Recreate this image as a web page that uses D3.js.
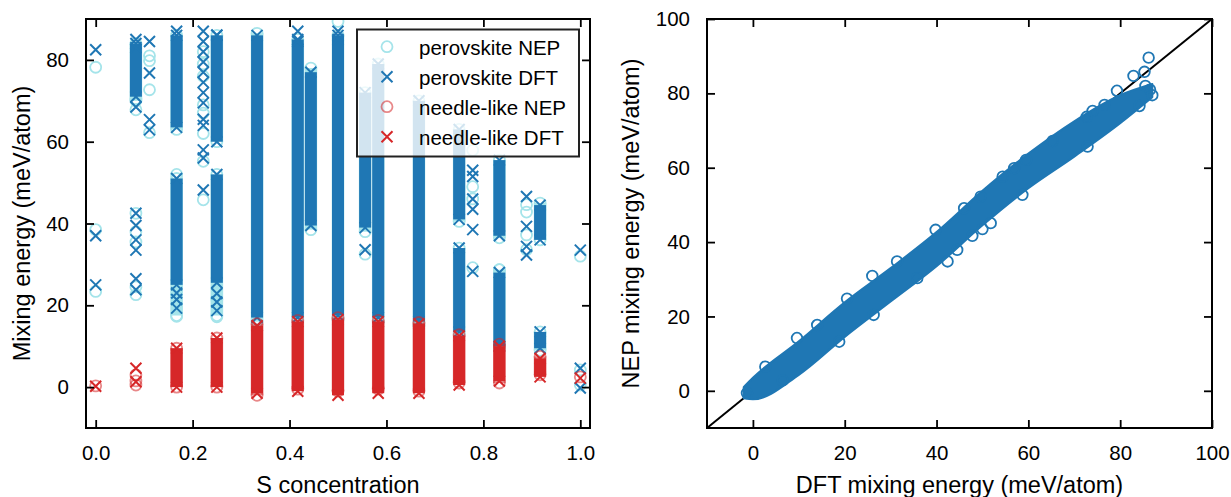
<!DOCTYPE html>
<html>
<head>
<meta charset="utf-8">
<script src="https://cdn.jsdelivr.net/npm/d3@7"></script>
<style>
  body { margin: 0; background: #fff; }
  svg text { font-family: "Liberation Sans", Arial, Helvetica, sans-serif; fill: #000; }
</style>
</head>
<body>
<svg id="chart" width="1231" height="497"></svg>
<script>
// ---- left panel: mixing energy vs S concentration ----
const xTicksLeft = [0, 0.2, 0.4, 0.6, 0.8, 1.0];
const yTicksLeft = [0, 20, 40, 60, 80];

// dense columns of markers: [S concentration, low, high] (meV/atom)
const perovNepBands = [
  [0.083, 70, 84], [0.167, 17.5, 51], [0.167, 63, 86], [0.25, 17.5, 52], [0.25, 60, 86],
  [0.333, 16, 86.5], [0.417, 16.5, 85], [0.444, 38.5, 78], [0.5, 16.5, 86], [0.556, 38, 72],
  [0.583, 16, 79], [0.667, 15, 70], [0.75, 13, 34], [0.75, 40.5, 63], [0.833, 9.5, 28.7],
  [0.833, 36.5, 55.5], [0.917, 9, 13.5], [0.917, 36, 45]
];
const perovDftBands = [
  [0.083, 71, 84], [0.167, 25, 51], [0.167, 63.5, 86], [0.25, 25.5, 52], [0.25, 60, 86],
  [0.333, 17, 86], [0.417, 17, 85], [0.444, 39.5, 77], [0.5, 17.5, 86], [0.556, 39, 72],
  [0.583, 17, 79], [0.667, 16, 70], [0.75, 13.5, 34], [0.75, 41, 63], [0.833, 10, 28],
  [0.833, 37, 55.5], [0.917, 9.5, 13.5], [0.917, 36, 44.5]
];
const needleNepBands = [
  [0.167, 0, 9.5], [0.25, 0, 12], [0.333, -2, 15.5], [0.417, -0.5, 16.3], [0.5, -1, 17],
  [0.583, -0.5, 16.3], [0.667, -1, 15.8], [0.75, 1, 12.8], [0.833, 1, 10.5], [0.917, 3, 7.5]
];
const needleDftBands = [
  [0.167, 0, 9.5], [0.25, 0, 12], [0.333, -1.5, 15], [0.417, -1, 16], [0.5, -2, 16.5],
  [0.583, -1.5, 16], [0.667, -1.5, 15.5], [0.75, 0.5, 12.5], [0.833, 1.5, 10], [0.917, 2.5, 7]
];

// scattered single markers: [S concentration, energy]
const perovNepPts = [
  [0, 78.2], [0, 38.5], [0, 23.4],
  [0.083, 70.5], [0.083, 67.8], [0.083, 42.5], [0.083, 38], [0.083, 35.5], [0.083, 24.5], [0.083, 22.6],
  [0.111, 81], [0.111, 79.8], [0.111, 72.7], [0.111, 62.2],
  [0.167, 52], [0.167, 22.5], [0.167, 17.3],
  [0.222, 82], [0.222, 79], [0.222, 76], [0.222, 69], [0.222, 67], [0.222, 62], [0.222, 55.2], [0.222, 45.8],
  [0.25, 21.5], [0.25, 17.2],
  [0.5, 89.4], [0.556, 32.5],
  [0.778, 57.9], [0.778, 49], [0.778, 46], [0.778, 29.2],
  [0.833, 28.7],
  [0.889, 44.6], [0.889, 42.8], [0.889, 37.2], [0.889, 33.6],
  [1.0, 32], [1.0, 4.2], [1.0, 0.5]
];
const perovDftPts = [
  [0, 82.5], [0, 37], [0, 25],
  [0.083, 85], [0.083, 83], [0.083, 68.5], [0.083, 42.5], [0.083, 39.5], [0.083, 36], [0.083, 33.5], [0.083, 26.5], [0.083, 23.8],
  [0.111, 84.5], [0.111, 76.8], [0.111, 65.4], [0.111, 62.9],
  [0.167, 87], [0.167, 23], [0.167, 21.4], [0.167, 19.3],
  [0.222, 87], [0.222, 84.5], [0.222, 82], [0.222, 79.5], [0.222, 77], [0.222, 74.5], [0.222, 72], [0.222, 69.5],
  [0.222, 65.5], [0.222, 64], [0.222, 58], [0.222, 56], [0.222, 48.2],
  [0.25, 86.1], [0.25, 22.9], [0.25, 20.8], [0.25, 18.7],
  [0.333, 15], [0.417, 87], [0.417, 84.5], [0.5, 87], [0.5, 85], [0.556, 33.6],
  [0.778, 53], [0.778, 51.5], [0.778, 46], [0.778, 43.5], [0.778, 38.5], [0.778, 28.3],
  [0.889, 46.6], [0.889, 39.3], [0.889, 34.4], [0.889, 32.3],
  [1.0, 33.5], [1.0, 4.6], [1.0, -0.2]
];
const needleNepPts = [[0, 0.3], [0.083, 3], [0.083, 1.5], [0.083, 0.5], [1.0, 2.5]];
const needleDftPts = [[0, 0.2], [0.083, 4.6], [0.083, 1.3], [1.0, 2.2]];

const legendLabels = ['perovskite NEP', 'perovskite DFT', 'needle-like NEP', 'needle-like DFT'];

// ---- right panel: NEP vs DFT parity ----
const ticksRight = [0, 20, 40, 60, 80, 100];
const diagLine = [-10, 100];
// outer envelope of the dense point cloud
const bandDft = [-2, 0, 10, 20, 30, 40, 50, 60, 70, 80, 87];
const bandNepHi = [1, 3.5, 13.3, 23.8, 33, 42.7, 53.8, 63.8, 72.5, 79.5, 82.5];
const bandNepLo = [-2, -2.3, 4.3, 14.5, 24, 33.5, 44.5, 54.5, 63, 72, 79];
// points sticking out of the cloud: [DFT, NEP]
const parityPts = [
  [86.2, 89.6], [82.9, 84.7], [85.3, 85.8], [79.3, 80.7], [74.0, 75.3], [72.7, 73.7], [76.6, 76.9],
  [84.2, 76.6], [65.3, 67.2], [56.9, 59.9], [49.6, 52.2], [46.0, 49.1], [39.8, 43.3], [47.8, 41.7],
  [50.0, 43.5], [72.9, 65.7], [26, 30.9], [9.6, 14.2], [2.7, 6.5], [42.4, 34.8], [35.8, 30.3],
  [26.3, 20.4], [31.4, 34.8], [14.0, 17.7], [44.5, 37.9], [-1.3, -0.6], [86.5, 81], [87, 79.5], [85.5, 82],
  [54.4, 57.6], [59.5, 62.1], [51.8, 45.1], [58.7, 52.7], [20.5, 24.8], [6.5, 2.8], [18.8, 13.2]
];

const BLUE = '#1f77b4', CYAN = '#a5e4ea', RED = '#d62728';
const svg = d3.select('#chart');

const xL = d3.scaleLinear().domain([-0.02, 1.02]).range([86, 590]);
const yL = d3.scaleLinear().domain([-10, 90]).range([428, 19]);
const xR = d3.scaleLinear().domain([-10, 100]).range([707, 1212]);
const yR = d3.scaleLinear().domain([-10, 100]).range([428, 19]);

const crossPath = s => `M${-s},${-s}L${s},${s}M${-s},${s}L${s},${-s}`;

function clipFor(id, x, y) {
  svg.append('clipPath').attr('id', id).append('rect')
    .attr('x', x.range()[0]).attr('y', y.range()[1])
    .attr('width', x.range()[1] - x.range()[0])
    .attr('height', y.range()[0] - y.range()[1]);
}
clipFor('clipL', xL, yL);
clipFor('clipR', xR, yR);

function drawMarkers(g, pts, x, y, kind, color, opacity) {
  const sel = g.selectAll(null).data(pts).enter();
  if (kind === 'x') {
    sel.append('path').attr('d', crossPath(5.5))
      .attr('transform', d => `translate(${x(d[0])},${y(d[1])})`)
      .attr('fill', 'none').attr('stroke', color).attr('stroke-width', 2)
      .attr('opacity', opacity);
  } else {
    sel.append('circle').attr('r', 5.5)
      .attr('cx', d => x(d[0])).attr('cy', d => y(d[1]))
      .attr('fill', 'none').attr('stroke', color).attr('stroke-width', 1.8)
      .attr('opacity', opacity);
  }
}

function drawBands(g, bands, x, y, kind, color, opacity) {
  const hw = kind === 'x' ? 6 : 6.3;
  g.selectAll(null).data(bands).enter().append('rect')
    .attr('x', d => x(d[0]) - hw).attr('width', hw * 2)
    .attr('y', d => y(d[2])).attr('height', d => y(d[1]) - y(d[2]))
    .attr('fill', color).attr('opacity', opacity);
  const ends = bands.flatMap(d => [[d[0], d[1]], [d[0], d[2]]]);
  drawMarkers(g, ends, x, y, kind, color, opacity);
}

function drawAxes(x, y, xt, yt, xfmt) {
  const g = svg.append('g');
  const [x0, x1] = x.range();
  const [y0, y1] = y.range();
  g.append('g').attr('transform', `translate(0,${y0})`)
    .call(d3.axisBottom(x).tickValues(xt).tickFormat(xfmt).tickSizeInner(-8).tickSizeOuter(0).tickPadding(17));
  g.append('g').attr('transform', `translate(0,${y1})`)
    .call(d3.axisTop(x).tickValues(xt).tickFormat('').tickSizeInner(-8).tickSizeOuter(0));
  g.append('g').attr('transform', `translate(${x0},0)`)
    .call(d3.axisLeft(y).tickValues(yt).tickFormat(d3.format('d')).tickSizeInner(-8).tickSizeOuter(0).tickPadding(17));
  g.append('g').attr('transform', `translate(${x1},0)`)
    .call(d3.axisRight(y).tickValues(yt).tickFormat('').tickSizeInner(-8).tickSizeOuter(0));
  g.selectAll('.domain').remove();
  g.selectAll('.tick line').attr('stroke', '#000').attr('stroke-width', 1.8);
  g.selectAll('.tick text').attr('font-size', 20.5).attr('fill', '#000')
    .style('font-family', '"Liberation Sans", Arial, sans-serif');
  g.append('rect').attr('x', x0).attr('y', y1).attr('width', x1 - x0).attr('height', y0 - y1)
    .attr('fill', 'none').attr('stroke', '#000').attr('stroke-width', 2);
}

// ---- left panel ----
const gL = svg.append('g').attr('clip-path', 'url(#clipL)');
drawBands(gL, perovNepBands, xL, yL, 'o', CYAN, 1);
drawMarkers(gL, perovNepPts, xL, yL, 'o', CYAN, 1);
drawBands(gL, perovDftBands, xL, yL, 'x', BLUE, 1);
drawMarkers(gL, perovDftPts, xL, yL, 'x', BLUE, 1);
drawBands(gL, needleNepBands, xL, yL, 'o', RED, 0.55);
drawMarkers(gL, needleNepPts, xL, yL, 'o', RED, 0.55);
drawBands(gL, needleDftBands, xL, yL, 'x', RED, 1);
drawMarkers(gL, needleDftPts, xL, yL, 'x', RED, 1);

drawAxes(xL, yL, xTicksLeft, yTicksLeft, d3.format('.1f'));

// legend
const leg = svg.append('g');
leg.append('rect').attr('x', 357).attr('y', 29.5).attr('width', 222).attr('height', 127)
  .attr('fill', '#fff').attr('fill-opacity', 0.8).attr('stroke', '#222').attr('stroke-width', 2);
const legStyle = [['o', CYAN, 1], ['x', BLUE, 1], ['o', RED, 0.55], ['x', RED, 1]];
legendLabels.forEach((label, i) => {
  const cy = 46.7 + i * 30;
  const [kind, color, op] = legStyle[i];
  if (kind === 'x') {
    leg.append('path').attr('d', crossPath(5.5)).attr('transform', `translate(387,${cy})`)
      .attr('fill', 'none').attr('stroke', color).attr('stroke-width', 2).attr('opacity', op);
  } else {
    leg.append('circle').attr('cx', 387).attr('cy', cy).attr('r', 5.5)
      .attr('fill', 'none').attr('stroke', color).attr('stroke-width', 1.8).attr('opacity', op);
  }
  leg.append('text').attr('x', 419).attr('y', cy + 8.2).attr('font-size', 20.5).text(label);
});

svg.append('text').attr('x', 338).attr('y', 493).attr('text-anchor', 'middle')
  .attr('font-size', 23.5).text('S concentration');
svg.append('text').attr('transform', 'translate(30,223.5) rotate(-90)').attr('text-anchor', 'middle')
  .attr('font-size', 23.5).text('Mixing energy (meV/atom)');

// ---- right panel ----
const gR = svg.append('g').attr('clip-path', 'url(#clipR)');
gR.append('path')
  .attr('d', d3.line()(diagLine.map(v => [xR(v), yR(v)])))
  .attr('stroke', '#000').attr('stroke-width', 2).attr('fill', 'none');

const bandRows = bandDft.map((d, i) => ({ dft: d, lo: bandNepLo[i], hi: bandNepHi[i] }));
gR.append('path')
  .attr('d', d3.area().curve(d3.curveMonotoneX)
    .x(d => xR(d.dft)).y0(d => yR(d.lo)).y1(d => yR(d.hi))(bandRows))
  .attr('fill', BLUE).attr('stroke', BLUE).attr('stroke-width', 2).attr('stroke-linejoin', 'round');

gR.selectAll(null).data(parityPts).enter().append('circle')
  .attr('cx', d => xR(d[0])).attr('cy', d => yR(d[1])).attr('r', 5.3)
  .attr('fill', 'none').attr('stroke', BLUE).attr('stroke-width', 1.8);

drawAxes(xR, yR, ticksRight, ticksRight, d3.format('d'));

svg.append('text').attr('x', 959.5).attr('y', 493).attr('text-anchor', 'middle')
  .attr('font-size', 23.5).text('DFT mixing energy (meV/atom)');
svg.append('text').attr('transform', 'translate(638.5,223.5) rotate(-90)').attr('text-anchor', 'middle')
  .attr('font-size', 23.5).text('NEP mixing energy (meV/atom)');
</script>
</body>
</html>
